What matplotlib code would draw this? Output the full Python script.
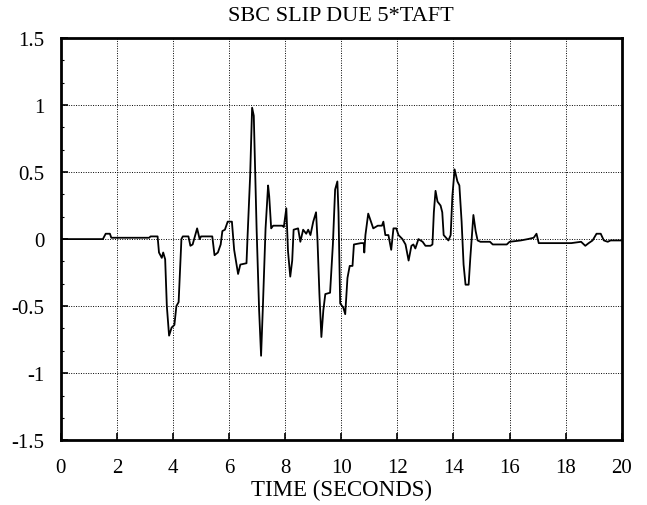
import numpy as np
import matplotlib.pyplot as plt
from matplotlib.ticker import MultipleLocator

# Slip time history
t = [0, 1.5, 1.55, 1.6, 1.75, 1.8, 3.15, 3.2, 3.45, 3.5, 3.6, 3.65, 3.72, 3.78,
     3.86, 3.95, 4.05, 4.12, 4.2, 4.3, 4.35, 4.55, 4.62, 4.7, 4.78, 4.86, 4.95,
     5.0, 5.4, 5.48, 5.6, 5.7, 5.76, 5.85, 5.95, 6.1, 6.18, 6.32, 6.4, 6.62,
     6.66, 6.75, 6.82, 6.88, 6.98, 7.07, 7.14, 7.2, 7.3, 7.39, 7.43, 7.5, 7.57,
     7.9, 7.95, 8.04, 8.1, 8.18, 8.25, 8.3, 8.46, 8.54, 8.64, 8.75, 8.82, 8.9,
     9.0, 9.1, 9.15, 9.22, 9.29, 9.36, 9.43, 9.6, 9.7, 9.78, 9.86, 9.9, 9.96,
     10.07, 10.14, 10.22, 10.3, 10.4, 10.45, 10.7, 10.8, 10.82, 10.86, 10.96,
     11.14, 11.3, 11.45, 11.5, 11.57, 11.68, 11.78, 11.86, 11.96, 12.04, 12.18,
     12.29, 12.4, 12.5, 12.57, 12.64, 12.75, 12.9, 13.0, 13.18, 13.25, 13.3,
     13.36, 13.43, 13.54, 13.6, 13.65, 13.78, 13.82, 13.9, 13.96, 14.04, 14.14,
     14.21, 14.29, 14.36, 14.43, 14.54, 14.6, 14.68, 14.71, 14.79, 14.86, 14.96,
     15.3, 15.4, 15.9, 16.0, 16.4, 16.65, 16.86, 16.96, 17.04, 18.2, 18.55,
     18.7, 18.82, 18.96, 19.1, 19.25, 19.36, 19.5, 19.6, 20]
slip = [0, 0, 0.02, 0.04, 0.04, 0.01, 0.01, 0.02, 0.02, -0.1, -0.14, -0.1, -0.15,
        -0.5, -0.72, -0.66, -0.64, -0.5, -0.47, 0.0, 0.02, 0.02, -0.05, -0.04,
        0.02, 0.08, 0.0, 0.02, 0.02, -0.12, -0.1, -0.04, 0.06, 0.07, 0.13, 0.13,
        -0.08, -0.26, -0.19, -0.18, 0.03, 0.47, 0.98, 0.92, 0.08, -0.53, -0.87,
        -0.53, 0.08, 0.40, 0.32, 0.08, 0.10, 0.10, 0.09, 0.23, -0.09, -0.28,
        -0.16, 0.07, 0.08, -0.02, 0.07, 0.04, 0.07, 0.03, 0.13, 0.2, 0.0, -0.41,
        -0.73, -0.53, -0.41, -0.40, -0.04, 0.37, 0.43, 0.2, -0.48, -0.51, -0.56,
        -0.29, -0.2, -0.2, -0.04, -0.03, -0.03, -0.1, 0.03, 0.19, 0.08, 0.10,
        0.10, 0.13, 0.03, 0.03, -0.08, 0.08, 0.08, 0.03, 0.0, -0.04, -0.16,
        -0.05, -0.04, -0.07, 0.0, -0.02, -0.05, -0.05, -0.04, 0.2, 0.36, 0.28,
        0.25, 0.2, 0.03, 0.0, -0.01, 0.03, 0.32, 0.52, 0.43, 0.40, 0.13, -0.19,
        -0.34, -0.34, -0.14, 0.10, 0.18, 0.06, -0.01, -0.02, -0.02, -0.04, -0.04,
        -0.02, -0.01, 0.0, 0.01, 0.04, -0.03, -0.03, -0.02, -0.05, -0.03, -0.01,
        0.04, 0.04, -0.01, -0.02, -0.01, -0.01]

xticks = np.arange(0, 21, 2)
yticks = [-1.5, -1, -0.5, 0, 0.5, 1, 1.5]
ytick_labels = ['-1.5', '-1', '-0.5', '0', '0.5', '1', '1.5']

plt.rcParams['font.family'] = ['Liberation Serif', 'DejaVu Serif']

fig = plt.figure(figsize=(6.47, 5.06), dpi=100)
ax = fig.add_axes([0.094, 0.128, 0.867, 0.795])

ax.plot(t, slip, color='black', linewidth=1.3)

ax.set_xlim(0, 20)
ax.set_ylim(-1.5, 1.5)
ax.set_xticks(xticks)
ax.set_yticks(yticks)
ax.set_yticklabels(ytick_labels)
ax.yaxis.set_minor_locator(MultipleLocator(1 / 6))
ax.tick_params(which='major', direction='in', length=5, width=1.2,
               labelsize=15, pad=13)
ax.tick_params(axis='y', which='major', pad=12)
ax.tick_params(which='minor', direction='in', length=2.5, width=0.8)

ax.grid(True, which='major', color='black', linestyle=(0, (1, 1.5)),
        linewidth=0.7)
for s in ax.spines.values():
    s.set_linewidth(2)

ax.set_title('SBC SLIP DUE 5*TAFT', fontsize=16, pad=13)
ax.set_xlabel('TIME (SECONDS)', fontsize=16.5, labelpad=1)

fig.savefig('out.png', dpi=100)
